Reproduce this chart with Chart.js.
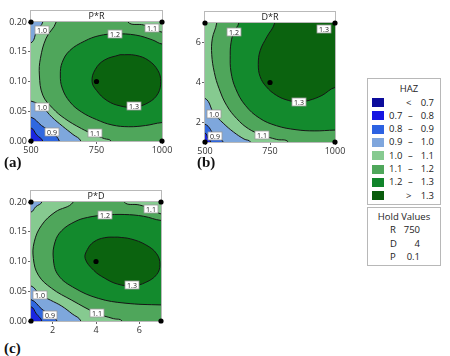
<!DOCTYPE html>
<html><head><meta charset="utf-8">
<script src="https://cdn.jsdelivr.net/npm/chart.js@4.4.1/dist/chart.umd.min.js"></script>
<style>
html,body{margin:0;padding:0;background:#fff;}
#wrap{position:relative;width:450px;height:356px;overflow:hidden;font-family:"Open Sans",sans-serif;color:#222;}
canvas{position:absolute;}
.plab{position:absolute;font-family:"Liberation Serif","DejaVu Serif",serif;font-weight:bold;font-size:15px;color:#111;line-height:15px;}
.box{position:absolute;border:1px solid #b8b8b8;box-sizing:border-box;background:#fff;font-size:9.5px;line-height:11px;}
.box span{position:absolute;white-space:nowrap;}
.sw{position:absolute;width:12px;height:9px;}
</style></head>
<body><div id="wrap">
<canvas id="ca" width="175" height="160" style="left:0;top:0"></canvas>
<canvas id="cb" width="175" height="160" style="left:173px;top:0"></canvas>
<canvas id="cc" width="175" height="160" style="left:0;top:180px"></canvas>
<div class="plab" style="left:4px;top:155px">(a)</div>
<div class="plab" style="left:197px;top:155px">(b)</div>
<div class="plab" style="left:4px;top:341px">(c)</div>
<div class="box" id="legend" style="left:367px;top:78px;width:74px;height:127px"></div>
<div class="box" id="hold" style="left:367px;top:207px;width:74px;height:59px"></div>
</div>
<script>
// ================= DATA =================
// Panel (a) P*R : x = R, y = P
const A_TITLE = 'P*R';
const A_XRANGE = [500, 1000];
const A_YRANGE = [0, 0.2];
const A_XTICKS = [500, 750, 1000];
const A_YTICKS = [0, 0.05, 0.10, 0.15, 0.20];
const A_C11 = [[596,0.2],[558,0.173],[536,0.139],[532,0.111],[545,0.077],[583,0.055],[628,0.038],[692,0.021],[740,0.011],[780,0.004],[805,0]];
const A_C11_TR = [[870,0.2],[930,0.195],[960,0.190],[1000,0.183]];
const A_C12 = [[1000,0.163],[963,0.170],[900,0.178],[822,0.180],[760,0.177],[705,0.168],[648,0.152],[619,0.132],[612,0.111],[619,0.089],[648,0.066],[692,0.049],[750,0.036],[809,0.027],[873,0.024],[937,0.026],[1000,0.031]];
const A_C13 = [[840,0.145],[900,0.144],[950,0.135],[985,0.118],[995,0.100],[985,0.080],[950,0.065],[895,0.057],[840,0.059],[790,0.068],[750,0.085],[733,0.100],[745,0.120],[780,0.136],[840,0.145]];
const A_C10_LL = [[500,0.067],[543,0.057],[580,0.040],[620,0.025],[660,0.011],[690,0]];
const A_C09 = [[500,0.040],[540,0.026],[580,0.014],[608,0]];
const A_C08 = [[500,0.022],[522,0.010],[545,0]];
const A_C10_TL = [[545,0.2],[522,0.185],[500,0.165]];
const A_LABELS = [['1.0',543,0.187],['1.2',822,0.180],['1.1',960,0.190],['1.3',894,0.058],['1.0',543,0.057],['0.9',580,0.015],['1.1',745,0.013]];
const A_POINTS = [[500,0],[500,0.2],[1000,0],[1000,0.2],[750,0.1]];

// Panel (b) D*R : x = R, y = D
const B_TITLE = 'D*R';
const B_XRANGE = [500, 1000];
const B_YRANGE = [1, 7];
const B_XTICKS = [500, 750, 1000];
const B_YTICKS = [2, 4, 6];
const B_C11 = [[545,7],[528,6.2],[526,5.4],[536,4.5],[554,3.7],[583,2.85],[622,2.18],[667,1.67],[718,1.36],[775,1.13],[820,1]];
const B_C12 = [[630,7],[611,6.55],[600,6.0],[597,5.37],[600,4.53],[618,3.69],[655,2.85],[710,2.2],[775,1.82],[850,1.62],[920,1.56],[1000,1.6]];
const B_C13 = [[768,7],[738,6.3],[712,5.6],[705,4.9],[712,4.3],[735,3.8],[775,3.35],[820,3.1],[860,3.02],[900,3.1],[950,3.35],[1000,3.75]];
const B_C10 = [[500,3.2],[534,2.45],[570,1.95],[610,1.5],[650,1.15],[675,1]];
const B_C09 = [[500,1.9],[538,1.32],[570,1]];
const B_C08 = [[500,1.45],[512,1.2],[522,1]];
const B_LABELS = [['1.2',611,6.55],['1.3',958,6.68],['1.3',860,3.02],['1.0',534,2.43],['0.9',538,1.30],['1.1',718,1.34]];
const B_POINTS = [[500,1],[500,7],[1000,1],[1000,7],[750,4]];

// Panel (c) P*D : x = D, y = P
const C_TITLE = 'P*D';
const C_XRANGE = [1, 7];
const C_YRANGE = [0, 0.2];
const C_XTICKS = [2, 4, 6];
const C_YTICKS = [0, 0.05, 0.10, 0.15, 0.20];
const C_C11 = [[2.95,0.2],[2.11,0.183],[1.49,0.161],[1.15,0.133],[1.11,0.105],[1.34,0.077],[1.95,0.055],[2.88,0.035],[4.03,0.013],[4.8,0.004],[5.2,0]];
const C_C11_TR = [[5.3,0.2],[6.0,0.195],[6.52,0.189],[7,0.180]];
const C_C12 = [[7,0.169],[6.2,0.176],[5.3,0.179],[4.42,0.178],[3.6,0.174],[3.03,0.167],[2.42,0.152],[2.11,0.133],[2.03,0.105],[2.26,0.077],[3.03,0.055],[4.11,0.038],[5.34,0.030],[7,0.027]];
const C_C13 = [[5.0,0.141],[5.6,0.138],[6.3,0.128],[6.8,0.113],[6.95,0.095],[6.8,0.078],[6.3,0.065],[5.7,0.059],[5.0,0.062],[4.4,0.072],[3.9,0.085],[3.5,0.105],[3.6,0.12],[3.9,0.133],[4.4,0.140],[5.0,0.141]];
const C_C10_LL = [[1,0.059],[1.42,0.044],[1.9,0.035],[2.42,0.025],[2.9,0.012],[3.3,0]];
const C_C09 = [[1,0.036],[1.5,0.020],[1.88,0.010],[2.2,0]];
const C_C08 = [[1,0.024],[1.25,0.012],[1.5,0]];
const C_C10_TL = [[1.5,0.2],[1.22,0.192],[1,0.183]];
const C_LABELS = [['1.2',4.42,0.178],['1.1',6.52,0.189],['1.3',5.68,0.060],['1.0',1.42,0.044],['0.9',1.88,0.010],['1.1',4.03,0.013]];
const C_POINTS = [[1,0],[1,0.2],[7,0],[7,0.2],[4,0.1]];

// Legend
const LEGEND_TITLE = 'HAZ';
const LEGEND_BINS = [['<','0.7'],['0.7','0.8'],['0.8','0.9'],['0.9','1.0'],['1.0','1.1'],['1.1','1.2'],['1.2','1.3'],['>','1.3']];
const HOLD_TITLE = 'Hold Values';
const HOLD_VALUES = [['R','750'],['D','4'],['P','0.1']];

// ================= STYLE =================
const LEGEND_COLORS = ['#0c0c9c','#1616e2','#2c62e2','#7fa6dd','#86ca90','#4fa75b','#10842a','#0a5c0c'];
const COL = {db:'#1a26e0', b:'#3068e0', lb:'#7ea7dc', lt:'#86ca90', md:'#4fa65b', g:'#138a2d', dg:'#0b630f'};
const FONT = '"Open Sans", sans-serif';

// close a contour polyline through the outside of the plot so the library fills the region
function closeRegion(pts, corners, xr, yr) {
  const xs = xr[1]-xr[0], ys = yr[1]-yr[0];
  const nu = p => [(p[0]-xr[0])/xs, (p[1]-yr[0])/ys];
  const de = q => ({x: xr[0]+q[0]*xs, y: yr[0]+q[1]*ys});
  const M = 0.35;
  const outer = {tl:[-M,1+M], tr:[1+M,1+M], br:[1+M,-M], bl:[-M,-M]};
  const normal = q => {
    const d = [Math.abs(q[0]), Math.abs(1-q[0]), Math.abs(q[1]), Math.abs(1-q[1])];
    const i = d.indexOf(Math.min(...d));
    return [[-1,0],[1,0],[0,-1],[0,1]][i];
  };
  const out = (p, nb) => {
    const q = nu(p), r = nu(nb);
    let dx = q[0]-r[0], dy = q[1]-r[1];
    const L = Math.hypot(dx,dy) || 1; dx /= L; dy /= L;
    const n = normal(q);
    return de([q[0]+dx*0.08+n[0]*0.2, q[1]+dy*0.08+n[1]*0.2]);
  };
  const n = pts.length;
  const res = [out(pts[0], pts[1])];
  pts.forEach(p => res.push({x:p[0], y:p[1]}));
  res.push(out(pts[n-1], pts[n-2]));
  corners.forEach(c => res.push(de(outer[c])));
  return res;
}

function buildPanel(id, P) {
  const datasets = [];
  const N = P.layers.length;
  P.layers.forEach((L, i) => {
    const data = L.closed ? L.pts.map(p => ({x:p[0], y:p[1]})) : closeRegion(L.pts, L.corners, P.xr, P.yr);
    datasets.push({data, showLine:true, fill:'shape', backgroundColor:L.color, borderColor:'#161616',
      borderWidth:1, tension:0.4, pointRadius:0, pointHoverRadius:0, pointBorderWidth:0, order:N-i+1});
  });
  datasets.push({data:P.points.map(p => ({x:p[0], y:p[1]})), showLine:false, pointRadius:2.6,
    pointBackgroundColor:'#000', pointBorderWidth:0, clip:false, order:0});

  const frame = {
    id:'frame'+id,
    beforeDatasetsDraw(chart) {
      const {ctx, chartArea:a} = chart;
      ctx.save();
      ctx.fillStyle = COL.lt;
      ctx.fillRect(a.left, a.top, a.right-a.left, a.bottom-a.top);
      ctx.strokeStyle = '#b9b9b9'; ctx.lineWidth = 1;
      ctx.strokeRect(a.left-0.5, a.top-11.5, a.right-a.left+1, a.bottom-a.top+12);
      ctx.beginPath(); ctx.moveTo(a.left-0.5, a.top-0.5); ctx.lineTo(a.right+0.5, a.top-0.5); ctx.stroke();
      ctx.fillStyle = '#1a1a1a'; ctx.font = '9px ' + FONT; ctx.textAlign = 'center'; ctx.textBaseline = 'middle';
      ctx.fillText(P.title, (a.left+a.right)/2, a.top-5.5);
      ctx.restore();
    },
    afterDatasetsDraw(chart) {
      const {ctx} = chart; const xs = chart.scales.x, ys = chart.scales.y;
      ctx.save();
      ctx.font = '7px ' + FONT; ctx.textAlign = 'center'; ctx.textBaseline = 'middle';
      P.labels.forEach(([t, x, y]) => {
        const px = Math.round(xs.getPixelForValue(x)), py = Math.round(ys.getPixelForValue(y));
        const w = Math.ceil(ctx.measureText(t).width) + 4, h = 8;
        ctx.fillStyle = '#fff'; ctx.fillRect(px - w/2, py - h/2, w, h);
        ctx.strokeStyle = '#9a9a9a'; ctx.lineWidth = 0.8; ctx.strokeRect(px - w/2, py - h/2, w, h);
        ctx.fillStyle = '#222'; ctx.fillText(t, px, py + 0.5);
      });
      ctx.restore();
    }
  };

  const tickFont = {family:FONT, size:9};
  new Chart(document.getElementById(id), {
    type:'scatter',
    data:{datasets},
    options:{
      responsive:false, animation:false, events:[], devicePixelRatio:1,
      layout:{padding:{top:P.area.top, right:P.w-P.area.right, left:0, bottom:0}},
      elements:{line:{capBezierPoints:false}},
      plugins:{legend:{display:false}, tooltip:{enabled:false}, title:{display:false}},
      scales:{
        x:{type:'linear', min:P.xr[0], max:P.xr[1],
          afterBuildTicks:s => { s.ticks = P.xticks.map(v => ({value:v})); },
          afterFit:s => { s.height = P.h - P.area.bottom; },
          ticks:{font:tickFont, color:'#333', padding:1, autoSkip:false, maxRotation:0, callback:v => String(v)},
          grid:{drawOnChartArea:false, tickLength:3, color:'#666'}, border:{display:false}},
        y:{type:'linear', min:P.yr[0], max:P.yr[1],
          afterBuildTicks:s => { s.ticks = P.yticks.map(v => ({value:v})); },
          afterFit:s => { s.width = P.area.left; },
          ticks:{font:tickFont, color:'#333', padding:1, autoSkip:false, callback:v => P.yfmt(v)},
          grid:{drawOnChartArea:false, tickLength:3, color:'#666'}, border:{display:false}}
      }
    },
    plugins:[frame]
  });
}

const f2 = v => Number(v).toFixed(2);
const f0 = v => String(v);

buildPanel('ca', {title:A_TITLE, xr:A_XRANGE, yr:A_YRANGE, xticks:A_XTICKS, yticks:A_YTICKS, yfmt:f2,
  w:175, h:160, area:{left:31, top:22, right:162, bottom:141},
  labels:A_LABELS, points:A_POINTS,
  layers:[
    {pts:A_C11, corners:['br','tr'], color:COL.md},
    {pts:A_C11_TR, corners:['tr'], color:COL.lt},
    {pts:A_C12, corners:[], color:COL.g},
    {pts:A_C13, closed:true, color:COL.dg},
    {pts:A_C10_LL, corners:['bl'], color:COL.lb},
    {pts:A_C09, corners:['bl'], color:COL.b},
    {pts:A_C08, corners:['bl'], color:COL.db},
    {pts:A_C10_TL, corners:['tl'], color:COL.lb}
  ]});

buildPanel('cb', {title:B_TITLE, xr:B_XRANGE, yr:B_YRANGE, xticks:B_XTICKS, yticks:B_YTICKS, yfmt:f0,
  w:175, h:160, area:{left:32, top:23, right:162, bottom:142},
  labels:B_LABELS, points:B_POINTS,
  layers:[
    {pts:B_C11, corners:['br','tr'], color:COL.md},
    {pts:B_C12, corners:['tr'], color:COL.g},
    {pts:B_C13, corners:['tr'], color:COL.dg},
    {pts:B_C10, corners:['bl'], color:COL.lb},
    {pts:B_C09, corners:['bl'], color:COL.b},
    {pts:B_C08, corners:['bl'], color:COL.db}
  ]});

buildPanel('cc', {title:C_TITLE, xr:C_XRANGE, yr:C_YRANGE, xticks:C_XTICKS, yticks:C_YTICKS, yfmt:f2,
  w:175, h:160, area:{left:31, top:22, right:161, bottom:141},
  labels:C_LABELS, points:C_POINTS,
  layers:[
    {pts:C_C11, corners:['br','tr'], color:COL.md},
    {pts:C_C11_TR, corners:['tr'], color:COL.lt},
    {pts:C_C12, corners:[], color:COL.g},
    {pts:C_C13, closed:true, color:COL.dg},
    {pts:C_C10_LL, corners:['bl'], color:COL.lb},
    {pts:C_C09, corners:['bl'], color:COL.b},
    {pts:C_C08, corners:['bl'], color:COL.db},
    {pts:C_C10_TL, corners:['tl'], color:COL.lb}
  ]});

// Legend boxes (HTML text)
(function(){
  const lg = document.getElementById('legend');
  let h = '<span style="left:0;width:74px;text-align:center;top:4px;left:4px">' + LEGEND_TITLE + '</span>';
  LEGEND_BINS.forEach((b, i) => {
    const cy = 23.5 + i*13.3;
    h += '<div class="sw" style="left:4px;top:' + (cy-4.5) + 'px;background:' + LEGEND_COLORS[i] + '"></div>';
    if (b[0] === '<' || b[0] === '>') {
      h += '<span style="left:38px;top:' + (cy-6) + 'px">' + (b[0] === '<' ? '&lt;' : '&gt;') + '</span>';
    } else {
      h += '<span style="left:21px;top:' + (cy-6) + 'px">' + b[0] + '</span>';
      h += '<span style="left:40px;top:' + (cy-6) + 'px">&ndash;</span>';
    }
    h += '<span style="right:6px;top:' + (cy-6) + 'px">' + b[1] + '</span>';
  });
  lg.innerHTML = h;
  const hd = document.getElementById('hold');
  let g = '<span style="left:0;width:74px;text-align:center;top:3px;left:-1px">' + HOLD_TITLE + '</span>';
  HOLD_VALUES.forEach((r, i) => {
    const cy = 22 + i*13.7;
    g += '<span style="left:22px;top:' + (cy-6) + 'px">' + r[0] + '</span>';
    g += '<span style="right:20px;top:' + (cy-6) + 'px">' + r[1] + '</span>';
  });
  hd.innerHTML = g;
})();
</script>
</body></html>
